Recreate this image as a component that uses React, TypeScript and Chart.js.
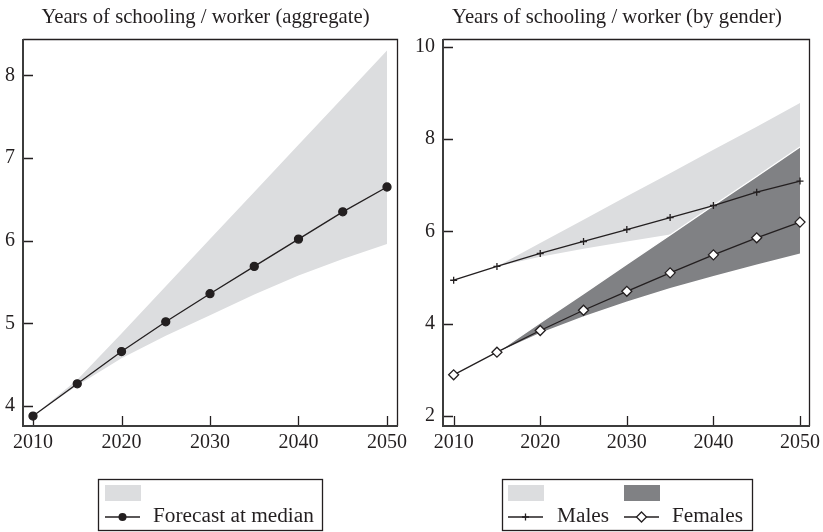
import React, { useEffect, useRef } from 'react';
import { Chart, registerables } from 'chart.js';

Chart.register(...registerables);

// ---------------- data ----------------
const years = [2010, 2015, 2020, 2025, 2030, 2035, 2040, 2045, 2050];
const xTickValues = [2010, 2020, 2030, 2040, 2050];

const aggYTicks = [4, 5, 6, 7, 8];
const aggMedian = [3.88, 4.27, 4.66, 5.02, 5.36, 5.69, 6.02, 6.35, 6.65];
const aggLower = [3.88, 4.25, 4.58, 4.85, 5.1, 5.35, 5.58, 5.78, 5.96];
const aggUpper = [3.88, 4.32, 4.88, 5.45, 6.02, 6.59, 7.16, 7.73, 8.3];

const genderYTicks = [2, 4, 6, 8, 10];
const maleMedian = [4.94, 5.24, 5.52, 5.78, 6.04, 6.3, 6.56, 6.85, 7.09];
const maleLower = [4.94, 5.24, 5.45, 5.62, 5.78, 5.93, 6.07, 6.2, 6.33];
const maleUpper = [4.94, 5.24, 5.75, 6.25, 6.76, 7.26, 7.77, 8.27, 8.78];
const femaleMedian = [2.89, 3.38, 3.85, 4.29, 4.7, 5.1, 5.49, 5.86, 6.2];
const femaleLower = [2.89, 3.38, 3.8, 4.16, 4.48, 4.77, 5.03, 5.28, 5.52];
const femaleUpper = [2.89, 3.38, 4.02, 4.65, 5.29, 5.92, 6.56, 7.19, 7.83];

const leftTitle = 'Years of schooling / worker (aggregate)';
const rightTitle = 'Years of schooling / worker (by gender)';
const medianLabel = 'Forecast at median';
const maleLabel = 'Males';
const femaleLabel = 'Females';

// ---------------- styles ----------------
const INK = '#231f20';
const LIGHT = '#dcdddf';
const DARK = '#808184';
const FONT = "'Liberation Serif', 'Times New Roman', serif";
const H = 532;

const pts = (vals: number[]) => years.map((x, i) => ({ x, y: vals[i] }));

function drawMarker(ctx: CanvasRenderingContext2D, kind: string, x: number, y: number) {
  ctx.save();
  ctx.strokeStyle = INK;
  ctx.lineWidth = 1.3;
  if (kind === 'circle') {
    ctx.fillStyle = INK;
    ctx.beginPath();
    ctx.arc(x, y, 4, 0, Math.PI * 2);
    ctx.fill();
  } else if (kind === 'cross') {
    ctx.beginPath();
    ctx.moveTo(x - 3.5, y);
    ctx.lineTo(x + 3.5, y);
    ctx.moveTo(x, y - 3.5);
    ctx.lineTo(x, y + 3.5);
    ctx.stroke();
  } else if (kind === 'diamond') {
    ctx.fillStyle = '#fff';
    ctx.beginPath();
    ctx.moveTo(x, y - 5);
    ctx.lineTo(x + 5, y);
    ctx.lineTo(x, y + 5);
    ctx.lineTo(x - 5, y);
    ctx.closePath();
    ctx.fill();
    ctx.stroke();
  }
  ctx.restore();
}

type LegendItem = { swatch?: string; marker: string; label: string; x: number; textX: number };
type PanelCfg = {
  width: number;
  left: number;
  title: string;
  area: { left: number; right: number; top: number; bottom: number };
  xMin: number;
  xMax: number;
  yMin: number;
  yMax: number;
  yTicks: number[];
  lines: { data: number[]; style: string; radius: number; fill: string }[];
  bands: { lower: number[]; upper: number[]; color: string; edge?: string }[];
  legendBox: { x: number; y: number; w: number; h: number };
  legendItems: LegendItem[];
};

function Panel({ cfg }: { cfg: PanelCfg }) {
  const ref = useRef<HTMLCanvasElement>(null);
  useEffect(() => {
    const datasets: any[] = [];
    cfg.lines.forEach((l) => {
      datasets.push({
        data: pts(l.data),
        borderColor: INK,
        borderWidth: 1.3,
        pointStyle: l.style,
        pointRadius: l.radius,
        pointBorderColor: INK,
        pointBorderWidth: 1.3,
        pointBackgroundColor: l.fill,
        fill: false,
        tension: 0,
      });
    });
    cfg.bands.forEach((b) => {
      const lowerIndex = datasets.length;
      datasets.push({ data: pts(b.lower), borderWidth: 0, pointRadius: 0, fill: false, borderColor: 'rgba(0,0,0,0)' });
      datasets.push({
        data: pts(b.upper),
        borderWidth: b.edge ? 1.3 : 0,
        borderColor: b.edge || 'rgba(0,0,0,0)',
        pointRadius: 0,
        backgroundColor: b.color,
        fill: lowerIndex,
      });
    });

    const overlay = {
      id: 'overlay',
      afterDraw(chart: any) {
        const { ctx, chartArea: a } = chart;
        const x = chart.scales.x;
        const y = chart.scales.y;
        ctx.save();
        ctx.strokeStyle = INK;
        ctx.lineWidth = 1.3;
        ctx.beginPath();
        for (const t of x.ticks) {
          const px = Math.round(x.getPixelForValue(t.value)) + 0.5;
          ctx.moveTo(px, a.bottom);
          ctx.lineTo(px, a.bottom - 10);
        }
        for (const t of y.ticks) {
          const py = Math.round(y.getPixelForValue(t.value)) + 0.5;
          ctx.moveTo(a.left, py);
          ctx.lineTo(a.left + 10, py);
        }
        ctx.stroke();
        // frame
        ctx.lineWidth = 1.3;
        ctx.beginPath();
        ctx.moveTo(a.left, a.top + 0.5);
        ctx.lineTo(a.right + 0.5, a.top + 0.5);
        ctx.lineTo(a.right + 0.5, a.bottom);
        ctx.stroke();
        ctx.strokeStyle = '#3c3c3c';
        ctx.lineWidth = 2;
        ctx.beginPath();
        ctx.moveTo(a.left, a.top);
        ctx.lineTo(a.left, a.bottom);
        ctx.lineTo(a.right + 1, a.bottom);
        ctx.stroke();
        // title
        ctx.fillStyle = INK;
        ctx.font = `20.7px ${FONT}`;
        ctx.textAlign = 'center';
        ctx.textBaseline = 'alphabetic';
        ctx.fillText(cfg.title, chart.width / 2, 23);
        // legend
        const lb = cfg.legendBox;
        ctx.strokeStyle = INK;
        ctx.lineWidth = 1.3;
        ctx.strokeRect(lb.x + 0.5, lb.y + 0.5, lb.w, lb.h);
        ctx.textAlign = 'left';
        ctx.font = `21.3px ${FONT}`;
        for (const it of cfg.legendItems) {
          if (it.swatch) {
            ctx.fillStyle = it.swatch;
            ctx.fillRect(it.x, lb.y + 6, 36, 16);
          }
          const ly = lb.y + 38;
          ctx.strokeStyle = INK;
          ctx.lineWidth = 1.3;
          ctx.beginPath();
          ctx.moveTo(it.x, ly);
          ctx.lineTo(it.x + 35, ly);
          ctx.stroke();
          drawMarker(ctx, it.marker, it.x + 17.5, ly);
          ctx.fillStyle = INK;
          ctx.fillText(it.label, it.textX, lb.y + 43);
        }
        ctx.restore();
      },
    };

    const chart = new Chart(ref.current!, {
      type: 'line',
      data: { datasets },
      options: {
        responsive: false,
        animation: false,
        layout: { padding: { left: 0, right: cfg.width - cfg.area.right, top: cfg.area.top, bottom: 0 } },
        plugins: { legend: { display: false }, title: { display: false }, tooltip: { enabled: false } },
        scales: {
          x: {
            type: 'linear',
            min: cfg.xMin,
            max: cfg.xMax,
            grid: { display: false, drawTicks: false },
            border: { display: false },
            afterBuildTicks: (ax: any) => {
              ax.ticks = xTickValues.map((v) => ({ value: v }));
            },
            afterFit: (ax: any) => {
              ax.height = H - cfg.area.bottom;
              ax.paddingLeft = 0;
              ax.paddingRight = 0;
            },
            ticks: {
              font: { family: FONT, size: 20 },
              color: INK,
              padding: 5,
              maxRotation: 0,
              autoSkip: false,
              callback: (v: any) => String(v),
            },
          },
          y: {
            min: cfg.yMin,
            max: cfg.yMax,
            grid: { display: false, drawTicks: false },
            border: { display: false },
            afterBuildTicks: (ax: any) => {
              ax.ticks = cfg.yTicks.map((v) => ({ value: v }));
            },
            afterFit: (ax: any) => {
              ax.width = cfg.area.left;
            },
            ticks: {
              font: { family: FONT, size: 20 },
              color: INK,
              padding: 8,
              autoSkip: false,
              callback: (v: any) => String(v),
            },
          },
        },
      },
      plugins: [overlay],
    } as any);
    return () => chart.destroy();
  }, []);
  return (
    <canvas
      ref={ref}
      width={cfg.width}
      height={H}
      style={{ position: 'absolute', left: cfg.left, top: 0, width: cfg.width, height: H }}
    />
  );
}

const leftCfg: PanelCfg = {
  width: 411,
  left: 0,
  title: leftTitle,
  area: { left: 23, right: 397, top: 39, bottom: 426 },
  xMin: 2008.87,
  xMax: 2051.13,
  yMin: 3.76,
  yMax: 8.44,
  yTicks: aggYTicks,
  lines: [{ data: aggMedian, style: 'circle', radius: 4, fill: INK }],
  bands: [{ lower: aggLower, upper: aggUpper, color: LIGHT }],
  legendBox: { x: 98, y: 479, w: 224, h: 51 },
  legendItems: [{ swatch: LIGHT, marker: 'circle', label: medianLabel, x: 105, textX: 153 }],
};

const rightCfg: PanelCfg = {
  width: 412,
  left: 411,
  title: rightTitle,
  area: { left: 32, right: 398, top: 39, bottom: 426 },
  xMin: 2008.77,
  xMax: 2051.04,
  yMin: 1.78,
  yMax: 10.17,
  yTicks: genderYTicks,
  lines: [
    { data: femaleMedian, style: 'rectRot', radius: 5, fill: '#ffffff' },
    { data: maleMedian, style: 'cross', radius: 3.5, fill: INK },
  ],
  bands: [
    { lower: femaleLower, upper: femaleUpper, color: DARK, edge: '#ffffff' },
    { lower: maleLower, upper: maleUpper, color: LIGHT },
  ],
  legendBox: { x: 91, y: 479, w: 250, h: 51 },
  legendItems: [
    { swatch: LIGHT, marker: 'cross', label: maleLabel, x: 97, textX: 146 },
    { swatch: DARK, marker: 'diamond', label: femaleLabel, x: 213, textX: 261 },
  ],
};

export default function App() {
  return (
    <div style={{ position: 'absolute', left: 0, top: 0, width: 823, height: H, background: '#fff' }}>
      <Panel cfg={leftCfg} />
      <Panel cfg={rightCfg} />
    </div>
  );
}
